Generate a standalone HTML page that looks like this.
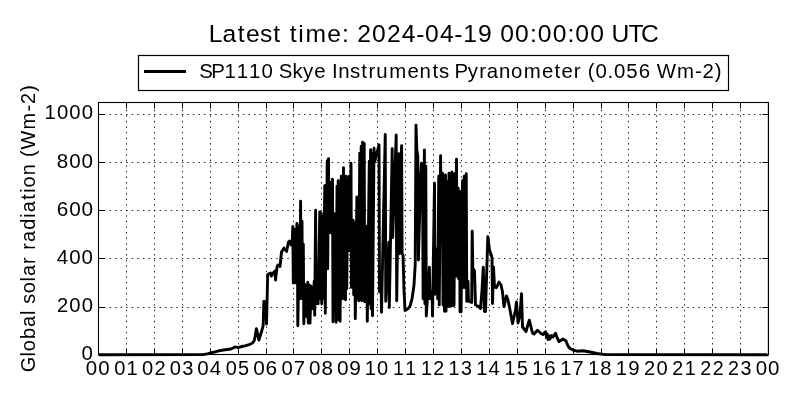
<!DOCTYPE html>
<html><head><meta charset="utf-8"><style>
html,body{margin:0;padding:0;background:#fff;overflow:hidden;}
svg{display:block;will-change:transform;}
text{font-family:"Liberation Sans",sans-serif;fill:#000;}
</style></head><body>
<svg width="800" height="400" viewBox="0 0 800 400">
<rect width="800" height="400" fill="#fff"/>
<g stroke="#000" stroke-width="0.9" stroke-dasharray="1.389 4.166" fill="none">
<line x1="126.50" y1="354.5" x2="126.50" y2="102.5" stroke-dashoffset="1.1"/>
<line x1="154.50" y1="354.5" x2="154.50" y2="102.5" stroke-dashoffset="1.1"/>
<line x1="182.50" y1="354.5" x2="182.50" y2="102.5" stroke-dashoffset="1.1"/>
<line x1="210.50" y1="354.5" x2="210.50" y2="102.5" stroke-dashoffset="1.1"/>
<line x1="238.50" y1="354.5" x2="238.50" y2="102.5" stroke-dashoffset="1.1"/>
<line x1="266.50" y1="354.5" x2="266.50" y2="102.5" stroke-dashoffset="1.1"/>
<line x1="293.50" y1="354.5" x2="293.50" y2="102.5" stroke-dashoffset="1.1"/>
<line x1="321.50" y1="354.5" x2="321.50" y2="102.5" stroke-dashoffset="1.1"/>
<line x1="349.50" y1="354.5" x2="349.50" y2="102.5" stroke-dashoffset="1.1"/>
<line x1="377.50" y1="354.5" x2="377.50" y2="102.5" stroke-dashoffset="1.1"/>
<line x1="405.50" y1="354.5" x2="405.50" y2="102.5" stroke-dashoffset="1.1"/>
<line x1="433.50" y1="354.5" x2="433.50" y2="102.5" stroke-dashoffset="1.1"/>
<line x1="461.50" y1="354.5" x2="461.50" y2="102.5" stroke-dashoffset="1.1"/>
<line x1="489.50" y1="354.5" x2="489.50" y2="102.5" stroke-dashoffset="1.1"/>
<line x1="517.50" y1="354.5" x2="517.50" y2="102.5" stroke-dashoffset="1.1"/>
<line x1="545.50" y1="354.5" x2="545.50" y2="102.5" stroke-dashoffset="1.1"/>
<line x1="573.50" y1="354.5" x2="573.50" y2="102.5" stroke-dashoffset="1.1"/>
<line x1="601.50" y1="354.5" x2="601.50" y2="102.5" stroke-dashoffset="1.1"/>
<line x1="628.50" y1="354.5" x2="628.50" y2="102.5" stroke-dashoffset="1.1"/>
<line x1="656.50" y1="354.5" x2="656.50" y2="102.5" stroke-dashoffset="1.1"/>
<line x1="684.50" y1="354.5" x2="684.50" y2="102.5" stroke-dashoffset="1.1"/>
<line x1="712.50" y1="354.5" x2="712.50" y2="102.5" stroke-dashoffset="1.1"/>
<line x1="740.50" y1="354.5" x2="740.50" y2="102.5" stroke-dashoffset="1.1"/>
<line x1="98.5" y1="307.50" x2="768.5" y2="307.50"/>
<line x1="98.5" y1="258.50" x2="768.5" y2="258.50"/>
<line x1="98.5" y1="210.50" x2="768.5" y2="210.50"/>
<line x1="98.5" y1="162.50" x2="768.5" y2="162.50"/>
<line x1="98.5" y1="114.50" x2="768.5" y2="114.50"/>
</g>
<path d="M98.5 354.7 L203 354.6 L207 353.9 L210 353.2 L215 351.8 L220 350.6 L225 349.8 L231 349 L233 348 L235 346.9 L238 347.6 L242 346.5 L245 345.8 L250 344.4 L253 342.5 L254.5 340 L256.4 328.8 L257 331 L258.9 340 L260.5 335 L262 330 L263.2 325.5 L263.8 301.5 L265.5 302 L266.5 324 L267.7 274.5 L270.5 273 L271.4 276 L273.3 273 L275 271 L275.5 280 L277 267 L278 265 L280 266.5 L281.5 252 L284 248 L286.5 251.5 L288.5 242 L289.5 241 L291 245 L292.3 240 L292.8 226.5 L293.3 283 L294 229 L295 230.6 L295.8 283 L296.9 223.4 L297.3 224.7 L297.8 325.7 L299.5 227.3 L300 298.7 L300.6 201.3 L301.1 288.7 L302 221.3 L302.5 298.7 L303.3 244.3 L303.8 323.7 L304.8 284.3 L305.3 303.7 L306.3 286.3 L306.8 316.7 L307.8 282.3 L308.3 323.1 L309.5 285.3 L310 323.1 L311 286.3 L311.5 298.7 L312.3 291.3 L312.8 308.7 L314.2 281.3 L314.7 315.2 L315.6 210.3 L316.1 303.7 L317.6 276.3 L318.1 303.7 L319.8 211.9 L320.3 298.7 L321.2 213.3 L321.7 303.7 L322.6 216.3 L323.1 298.7 L324.8 185.7 L325.3 313.2 L326 185.3 L326.5 268.7 L327.2 160.7 L327.7 268.7 L328.5 158.6 L329 232.7 L330.2 182.3 L330.7 232.7 L332.5 179.3 L333 321.7 L334.2 213.8 L334.7 308.7 L335.6 216.3 L336.1 322.2 L337 186.3 L337.5 303.7 L338.2 180.7 L338.7 319.7 L339.6 191.3 L340.1 321.2 L341.25 176.3 L341.75 298.7 L342.5 186.3 L343 293.7 L343.5 167.8 L344 298.7 L345 179.3 L345.5 299.7 L346.25 176.3 L346.75 288.7 L347.8 181.3 L348.3 250.7 L349.3 176.3 L349.8 250.7 L351 163.3 L351.5 287.4 L353.2 220.3 L353.7 294.7 L354.8 223.3 L355.3 318.7 L356.9 196.9 L357.4 298.7 L358.3 201.3 L358.8 300.7 L359.75 153.2 L360.25 296.7 L361.2 146.3 L361.7 300.7 L362.5 142.3 L363 298.7 L364.2 143.55 L364.7 301.7 L366.8 226.3 L367.3 321.2 L369.3 161.3 L369.8 303.7 L370.6 149.8 L371.1 308.7 L372 153.3 L372.5 315.7 L374 148.2 L374.5 162.45 L379 144.8 L379.5 291.7 L381 276.3 L381.5 312.2 L385.25 134.4 L385.75 301.2 L388.8 242.3 L389.3 307.45 L392.2 148.8 L392.7 237.45 L396.2 135.05 L396.7 300.7 L398.75 153.8 L399.25 253.7 L401.6 145.7 L402.1 253.7 L403 255 L404 290 L405 310.5 L408 308.7 L410 306.2 L412 299 L414 285 L415.2 265 L416 125.1 L416.8 150 L417.8 156 L418.4 260 L420.8 175 L421.5 163.3 L422.6 171.3 L423.1 298.7 L424.4 150.05 L424.9 303.7 L425.8 166.3 L426.3 316 L429.4 267.3 L429.9 298.7 L432 291.3 L432.5 316 L434.5 183.3 L435 294.3 L437.2 248.8 L437.7 298.7 L438.75 176.3 L439.25 304.95 L440.6 155.7 L441.1 239.7 L442.5 173.2 L443 304.95 L444 176.3 L444.5 311.2 L445.5 175.05 L446 311.2 L447.1 181.9 L447.6 306.2 L449 173.3 L449.5 306.2 L450.5 176.3 L451 306.2 L451.9 171.9 L452.4 305.6 L453.5 175.3 L454 305.6 L455 173.3 L455.5 276.2 L456.5 159.3 L457 276.2 L458.2 188.2 L458.7 278.7 L459.5 191.3 L460 311.8 L460.6 205.05 L461.1 311.8 L462.5 180.7 L463 287.45 L464.3 176.3 L464.8 287.45 L466.25 173.8 L466.75 301.2 L468 281.3 L468.5 301.2 L471.7 302.5 L472.2 231.3 L472.8 268 L474.5 271 L475.5 305 L478 306 L480.5 308.5 L482 290 L483.3 267.3 L484.4 311.25 L485.5 311.5 L487.8 236.8 L489.5 250 L491 254 L492 258 L492.5 303.5 L493.5 267 L494.5 287 L496.5 287.5 L499 282 L501 285 L502.5 292 L504 306.5 L506.5 296 L508 300 L510 310 L512.5 323.5 L515.5 310 L516.5 302 L518 323 L520 315 L521.5 293.8 L522.5 327 L526 331.5 L529.3 320.2 L532.5 333 L534 334 L537.5 330.2 L541 333.5 L543 334.5 L545.5 331.7 L546.5 337 L547.2 334 L548 339.5 L549 336 L550 339 L551.5 335.5 L553 337 L555.5 333.2 L557.5 338.5 L559 341.5 L563 339 L566 341 L568 346 L570 348.5 L573 350 L577 351.2 L583 350.8 L590 352 L597 353.5 L605 354.6 L768.5 354.7" fill="none" stroke="#000" stroke-width="2.9" stroke-linejoin="round" stroke-linecap="butt"/>

<line x1="767.5" y1="103" x2="767.5" y2="354" stroke="#cfe6cf" stroke-width="1"/>
<path d="M126.50 354.5v-6M126.50 102.5v6M154.50 354.5v-6M154.50 102.5v6M182.50 354.5v-6M182.50 102.5v6M210.50 354.5v-6M210.50 102.5v6M238.50 354.5v-6M238.50 102.5v6M266.50 354.5v-6M266.50 102.5v6M293.50 354.5v-6M293.50 102.5v6M321.50 354.5v-6M321.50 102.5v6M349.50 354.5v-6M349.50 102.5v6M377.50 354.5v-6M377.50 102.5v6M405.50 354.5v-6M405.50 102.5v6M433.50 354.5v-6M433.50 102.5v6M461.50 354.5v-6M461.50 102.5v6M489.50 354.5v-6M489.50 102.5v6M517.50 354.5v-6M517.50 102.5v6M545.50 354.5v-6M545.50 102.5v6M573.50 354.5v-6M573.50 102.5v6M601.50 354.5v-6M601.50 102.5v6M628.50 354.5v-6M628.50 102.5v6M656.50 354.5v-6M656.50 102.5v6M684.50 354.5v-6M684.50 102.5v6M712.50 354.5v-6M712.50 102.5v6M740.50 354.5v-6M740.50 102.5v6M98.5 307.50h6M768.5 307.50h-6M98.5 258.50h6M768.5 258.50h-6M98.5 210.50h6M768.5 210.50h-6M98.5 162.50h6M768.5 162.50h-6M98.5 114.50h6M768.5 114.50h-6" stroke="#000" stroke-width="1" fill="none"/>
<rect x="98.5" y="102.5" width="670.00" height="252.00" fill="none" stroke="#000" stroke-width="1.1"/>
<rect x="138.5" y="55.5" width="590" height="35" fill="#fff" stroke="#000" stroke-width="1.2"/>
<line x1="144" y1="71.5" x2="186" y2="71.5" stroke="#000" stroke-width="3"/>
<text transform="scale(1.0095,1)" x="85.04 97.29" y="375.00" font-size="20.3">00</text>
<text transform="scale(0.9880,1)" x="115.52 128.04" y="375.00" font-size="20.3">01</text>
<text transform="scale(0.9917,1)" x="143.29 155.76" y="375.00" font-size="20.3">02</text>
<text transform="scale(0.9896,1)" x="171.61 184.11" y="375.00" font-size="20.3">03</text>
<text transform="scale(1.0095,1)" x="195.52 207.77" y="375.00" font-size="20.3">04</text>
<text transform="scale(0.9812,1)" x="230.08 242.69" y="375.00" font-size="20.3">05</text>
<text transform="scale(1.0268,1)" x="246.56 258.61" y="375.00" font-size="20.3">06</text>
<text transform="scale(0.9987,1)" x="281.82 294.20" y="375.00" font-size="20.3">07</text>
<text transform="scale(1.0149,1)" x="304.58 316.77" y="375.00" font-size="20.3">08</text>
<text transform="scale(1.0258,1)" x="328.51 340.57" y="375.00" font-size="20.3">09</text>
<text transform="scale(0.9880,1)" x="369.08 381.60" y="375.00" font-size="20.3">10</text>
<text transform="scale(0.9641,1)" x="407.55 420.38" y="375.00" font-size="20.3">11</text>
<text transform="scale(0.9687,1)" x="434.49 447.26" y="375.00" font-size="20.3">12</text>
<text transform="scale(0.9669,1)" x="463.97 476.76" y="375.00" font-size="20.3">13</text>
<text transform="scale(0.9886,1)" x="481.65 494.16" y="375.00" font-size="20.3">14</text>
<text transform="scale(0.9582,1)" x="526.60 539.51" y="375.00" font-size="20.3">15</text>
<text transform="scale(1.0058,1)" x="528.88 541.18" y="375.00" font-size="20.3">16</text>
<text transform="scale(0.9761,1)" x="573.97 586.65" y="375.00" font-size="20.3">17</text>
<text transform="scale(0.9935,1)" x="591.77 604.22" y="375.00" font-size="20.3">18</text>
<text transform="scale(1.0048,1)" x="612.86 625.17" y="375.00" font-size="20.3">19</text>
<text transform="scale(0.9917,1)" x="649.47 661.94" y="375.00" font-size="20.3">20</text>
<text transform="scale(0.9687,1)" x="694.09 706.85" y="375.00" font-size="20.3">21</text>
<text transform="scale(0.9730,1)" x="719.74 732.45" y="375.00" font-size="20.3">22</text>
<text transform="scale(0.9712,1)" x="749.63 762.37" y="375.00" font-size="20.3">23</text>
<text transform="scale(1.0095,1)" x="748.59 760.84" y="375.00" font-size="20.3">00</text>
<text transform="scale(1.0095,1)" x="80.84" y="360.10" font-size="20.3">0</text>
<text transform="scale(0.9977,1)" x="57.07 69.47 81.86" y="312.15" font-size="20.3">200</text>
<text transform="scale(1.0095,1)" x="56.34 68.59 80.84" y="264.15" font-size="20.3">400</text>
<text transform="scale(1.0210,1)" x="55.64 67.75 79.87" y="216.00" font-size="20.3">600</text>
<text transform="scale(1.0131,1)" x="56.12 68.33 80.53" y="168.20" font-size="20.3">800</text>
<text transform="scale(0.9990,1)" x="44.61 56.99 69.37 81.75" y="119.15" font-size="20.3">1000</text>
<text transform="scale(0.9990,1)" x="209.05 222.71 237.88 246.21 260.17 273.57 281.86 290.15 298.66 305.74 327.71 342.27 349.92 357.62 372.48 387.33 402.19 416.59 425.48 440.33 454.73 463.62 478.48 493.05 500.76 515.62 530.42 538.34 553.20 568.00 575.92 590.78 605.36 612.13 629.18 641.73" y="42.00" font-size="24.7">Latest time: 2024-04-19 00:00:00 UTC</text>
<text transform="scale(1.0054,1)" x="198.11 210.08 223.18 235.48 247.78 260.09 272.13 277.39 290.82 301.46 312.55 324.40 330.32 336.48 348.21 359.29 366.50 374.34 387.07 405.25 417.32 430.06 436.64 447.00 451.95 465.20 476.59 484.23 496.28 508.32 520.84 539.02 551.58 558.49 570.68 578.29 584.57 592.23 604.28 610.68 622.98 635.28 647.33 653.20 673.30 691.29 698.66 710.85" y="77.90" font-size="20.3">SP1110 Skye Instruments Pyranometer (0.056 Wm-2)</text>
<g transform="translate(34.8,371.0) rotate(-90)"><text transform="scale(0.9793,1)" x="-1.32 14.77 20.21 32.58 44.97 57.20 62.54 68.61 79.29 91.51 96.96 109.39 117.18 123.86 131.75 144.14 156.58 162.03 174.83 182.05 187.49 199.85 212.12 218.59 226.07 246.68 265.01 272.64 285.09" y="0.00" font-size="20.3">Global solar radiation (Wm-2)</text></g>
</svg>
</body></html>
